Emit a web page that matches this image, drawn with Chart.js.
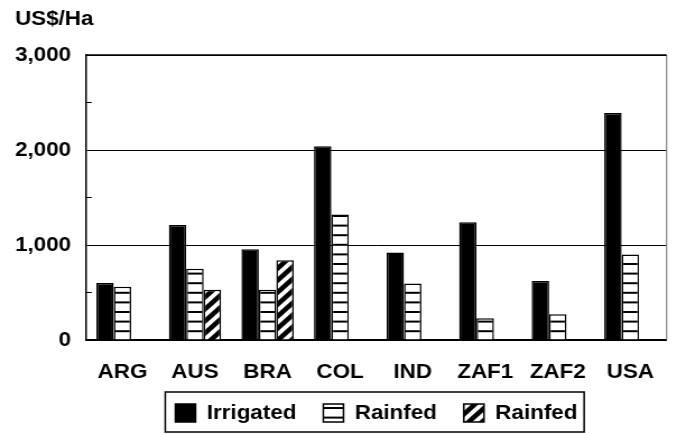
<!DOCTYPE html>
<html>
<head>
<meta charset="utf-8">
<script src="https://cdn.jsdelivr.net/npm/chart.js@4.4.1/dist/chart.umd.min.js"></script>
<style>
    body { margin: 0; background: #fff; }
    #myChart { display: block; }
</style>
</head>
<body>
<!-- canvas is drawn narrower and stretched sideways, like the original picture -->
<canvas id="myChart" width="604" height="434" style="width:677px;height:434px"></canvas>
<script>
const categories = ['ARG', 'AUS', 'BRA', 'COL', 'IND', 'ZAF1', 'ZAF2', 'USA'];
const irrigated = [600, 1210, 955, 2040, 920, 1240, 620, 2390];
const rainfed = [560, 750, 530, 1320, 595, 230, 270, 900];
const rainfedHatched = [null, 530, 840, null, null, null, null, null];
const seriesNames = ['Irrigated', 'Rainfed', 'Rainfed'];
const yTicks = [0, 1000, 2000, 3000];
const minorTicks = [500, 1500, 2500];

const FONT = "'Liberation Sans', Arial, sans-serif";
const LEGEND_PAD = 24;     // gap between legend items
const LEGEND_HEIGHT = 40;  // room kept for the legend at the bottom
const PLOT_BOTTOM = 340;

// Horizontal lines fill
const makeLinesPattern = () => {
    const c = document.createElement('canvas');
    c.width = 8;
    c.height = 48;
    const g = c.getContext('2d');
    g.fillStyle = '#fff';
    g.fillRect(0, 0, 8, 48);
    g.strokeStyle = '#000';
    g.lineWidth = 2;
    for (let i = 0; i < 5; i++) {
        const y = 4.8 + i * 9.6;
        g.beginPath();
        g.moveTo(0, y);
        g.lineTo(8, y);
        g.stroke();
    }
    return g.createPattern(c, 'repeat');
}

// Diagonal stripes fill
const makeStripePattern = () => {
    const c = document.createElement('canvas');
    const s = 12;
    c.width = s;
    c.height = s;
    const g = c.getContext('2d');
    g.fillStyle = '#fff';
    g.fillRect(0, 0, s, s);
    g.strokeStyle = '#000';
    g.lineWidth = 4.5;
    g.beginPath();
    g.moveTo(-s, s); g.lineTo(s, -s);
    g.moveTo(0, s * 2); g.lineTo(s * 2, 0);
    g.moveTo(-s, s * 2); g.lineTo(s * 2, -s);
    g.stroke();
    return g.createPattern(c, 'repeat');
}

// Box round the plot, small ticks, legend frame
const framePlugin = {
    id: 'frame',
    beforeLayout: (chart) => {
        // wide gaps between legend items, but keep the legend short
        const legend = chart.legend;
        if (legend && !legend._shortFit) {
            const fit = legend.fit.bind(legend);
            legend.fit = () => {
                fit();
                legend.height = LEGEND_HEIGHT;
            };
            legend._shortFit = true;
        }
    },
    afterLayout: (chart) => {
        // centre the legend under the plot
        const legend = chart.legend;
        const area = chart.chartArea;
        const dx = (area.left + area.right) / 2 - (legend.left + legend.right) / 2;
        legend.left += dx;
        legend.right += dx;
        legend.top = 403 - LEGEND_PAD;
        legend.bottom = legend.top + 20 + 2 * LEGEND_PAD;
    },
    afterDraw: (chart) => {
        const {ctx, chartArea} = chart;
        const y = chart.scales.y;
        ctx.save();
        ctx.strokeStyle = '#666';
        ctx.lineWidth = 1;
        ctx.beginPath();
        ctx.moveTo(chartArea.right, chartArea.top);
        ctx.lineTo(chartArea.right, chartArea.bottom);
        ctx.stroke();

        ctx.strokeStyle = '#000';
        ctx.lineWidth = 1.5;
        ctx.beginPath();
        ctx.moveTo(chartArea.left, chartArea.top);
        ctx.lineTo(chartArea.right, chartArea.top);
        ctx.stroke();

        ctx.lineWidth = 1;
        minorTicks.forEach(v => {
            const py = y.getPixelForValue(v);
            ctx.beginPath();
            ctx.moveTo(chartArea.left, py);
            ctx.lineTo(chartArea.left + 5, py);
            ctx.stroke();
        });

        const boxes = chart.legend.legendHitBoxes;
        if (boxes && boxes.length) {
            const first = boxes[0];
            const last = boxes[boxes.length - 1];
            ctx.lineWidth = 1.5;
            ctx.strokeRect(first.left - 9, first.top - 11, last.left + last.width + 6 - (first.left - 9), 40);
        }
        ctx.restore();
    }
};

var ctx = document.getElementById('myChart').getContext('2d');
var myChart = new Chart(ctx, {
    type: 'bar',
    data: {
        labels: categories,
        datasets: [{
            label: seriesNames[0],
            data: irrigated,
            backgroundColor: '#000',
            borderColor: '#000',
            borderWidth: 1.5
        }, {
            label: seriesNames[1],
            data: rainfed,
            backgroundColor: makeLinesPattern(),
            borderColor: '#000',
            borderWidth: 1.5
        }, {
            label: seriesNames[2],
            data: rainfedHatched,
            backgroundColor: makeStripePattern(),
            borderColor: '#000',
            borderWidth: 1.5
        }]
    },
    options: {
        responsive: false,
        animation: false,
        devicePixelRatio: 1,
        layout: {
            padding: { left: 13.4, right: 8, top: 0, bottom: 0 }
        },
        datasets: {
            bar: {
                categoryPercentage: 0.72,
                barPercentage: 1.0
            }
        },
        plugins: {
            title: {
                display: true,
                text: 'US$/Ha',
                align: 'start',
                color: '#000',
                font: { family: FONT, size: 20, weight: 'bold' },
                padding: { top: 7, bottom: 24 }
            },
            legend: {
                position: 'bottom',
                labels: {
                    color: '#000',
                    font: { family: FONT, size: 20, weight: 'bold' },
                    boxWidth: 18,
                    boxHeight: 18,
                    padding: LEGEND_PAD
                }
            },
            tooltip: { enabled: false }
        },
        scales: {
            x: {
                grid: { display: false, drawTicks: false },
                border: { color: '#000', width: 2 },
                ticks: {
                    color: '#000',
                    padding: 20,
                    font: { family: FONT, size: 20, weight: 'bold' }
                },
                // fit() counts the padding twice, so set the band height directly
                afterFit: (axis) => { axis.height = 434 - LEGEND_HEIGHT - PLOT_BOTTOM; }
            },
            y: {
                min: 0,
                max: 3000,
                afterBuildTicks: (axis) => {
                    axis.ticks = yTicks.map(v => ({ value: v }));
                },
                grid: {
                    drawTicks: false,
                    color: (c) => (c.tick && c.tick.value > 0) ? '#000' : 'rgba(0,0,0,0)',
                    lineWidth: 1
                },
                border: { color: '#000', width: 1.5 },
                ticks: {
                    color: '#000',
                    padding: 13.4,
                    font: { family: FONT, size: 20, weight: 'bold' },
                    callback: (v) => v.toLocaleString('en-US')
                },
                afterFit: (axis) => { axis.width -= 13.4; }
            }
        }
    },
    plugins: [framePlugin]
});
</script>
</body>
</html>
